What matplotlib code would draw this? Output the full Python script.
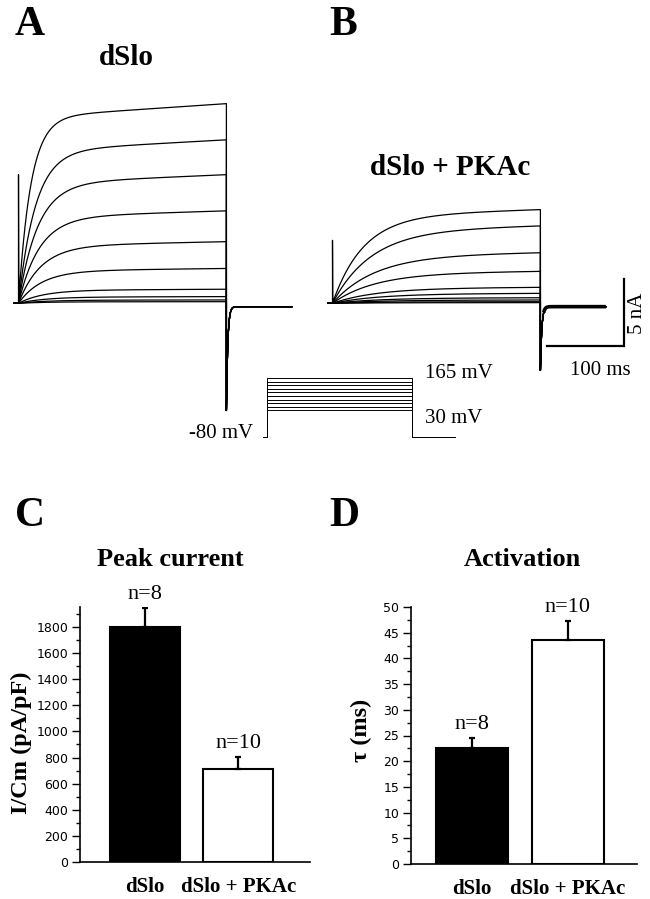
"""dSlo vs dSlo + PKAc: current traces, voltage protocol and summary bars."""

import matplotlib

matplotlib.use("Agg")
import matplotlib.pyplot as plt
import numpy as np

W, H = 650, 899
SERIF = ["Liberation Serif", "DejaVu Serif"]
SANS = ["DejaVu Sans"]

# voltage protocol
STEP_MV = [30, 45, 60, 75, 90, 105, 120, 135, 150, 165]
HOLD_MV = -80
PULSE_MS = 270
TAIL_MS = 85

# current at the end of each step (nA), lowest to highest voltage
AMP_DSLO = [0.12, 0.25, 0.5, 1.05, 2.6, 4.6, 6.9, 9.6, 12.2, 14.9]
AMP_PKA = [0.05, 0.12, 0.25, 0.42, 0.75, 1.2, 2.4, 3.8, 5.8, 7.0]
# activation time constants (ms)
TAU_DSLO = [35, 35, 34, 32, 30, 29, 27, 25, 22, 16]
TAU_PKA = [60, 60, 60, 60, 58, 56, 55, 55, 50, 40]
# capacitive spike at onset, peak tail current, steady tail level (nA)
CAP_DSLO, TAIL_DSLO = 9.6, -8.0
CAP_PKA, TAIL_PKA = 4.7, -5.0
TAIL_SS = -0.25

SCALE_NA, SCALE_MS = 5, 100

GROUPS = ["dSlo", "dSlo + PKAc"]
PEAK_MEAN = [1800, 710]
PEAK_SEM = [145, 95]
TAU_MEAN = [22.6, 43.6]
TAU_SEM = [1.9, 3.6]
N_CELLS = [8, 10]


def px_rect(box):
    left, top, right, bottom = box
    return [left / W, 1 - bottom / H, (right - left) / W, (bottom - top) / H]


def scaled_axes(fig, box, origin, sx, sy):
    """Axes where data (0, 0) sits at pixel `origin`, sx / sy pixels per unit."""
    ax = fig.add_axes(px_rect(box))
    left, top, right, bottom = box
    x0, y0 = origin
    ax.set_xlim((left - x0) / sx, (right - x0) / sx)
    ax.set_ylim((y0 - bottom) / sy, (y0 - top) / sy)
    ax.axis("off")
    return ax


def ftext(fig, x, y, s, **kw):
    fig.text(x / W, 1 - y / H, s, **kw)


def make_trace(amp, tau, cap, tail):
    t_pre = np.array([-6.0, 0.0, 0.0, 0.4])
    i_pre = np.array([0.0, 0.0, cap, 0.0])
    t_on = np.linspace(0.4, PULSE_MS, 400)
    i_on = amp * (0.93 * (1 - np.exp(-t_on / tau)) + 0.07 * t_on / PULSE_MS)
    t_off = np.linspace(0, TAIL_MS, 200)
    i_off = TAIL_SS + (tail - TAIL_SS) * np.exp(-t_off / 1.8)
    t = np.concatenate([t_pre, t_on, PULSE_MS + t_off])
    i = np.concatenate([i_pre, i_on, i_off])
    return t, i


fig = plt.figure(figsize=(W / 100, H / 100), dpi=100)

MS_PX, NA_PX = 0.77, 13.4

# --- A: dSlo traces (capacitive spike drawn once, with the last sweep)
ax_a = scaled_axes(fig, (5, 90, 300, 425), (18.5, 303.3), MS_PX, NA_PX)
for k, (amp, tau) in enumerate(zip(AMP_DSLO, TAU_DSLO)):
    cap = CAP_DSLO if k == len(AMP_DSLO) - 1 else 0.0
    t, i = make_trace(amp, tau, cap, TAIL_DSLO)
    ax_a.plot(t, i, color="black", lw=0.9)

# --- B: dSlo + PKAc traces
ax_b = scaled_axes(fig, (320, 150, 650, 400), (332.5, 303.3), MS_PX, NA_PX)
for k, (amp, tau) in enumerate(zip(AMP_PKA, TAU_PKA)):
    cap = CAP_PKA if k == len(AMP_PKA) - 1 else 0.0
    t, i = make_trace(amp, tau, cap, TAIL_PKA)
    ax_b.plot(t, i, color="black", lw=0.9)
tail = t > PULSE_MS + 4
ax_b.plot(t[tail], i[tail], color="black", lw=2.6, solid_capstyle="butt")

# scale bar
sb_x1 = PULSE_MS + 9 + SCALE_MS
sb_y0 = -3.2
ax_b.plot([sb_x1 - SCALE_MS, sb_x1, sb_x1], [sb_y0, sb_y0, sb_y0 + SCALE_NA],
          color="black", lw=1.6, solid_joinstyle="miter")
ftext(fig, 600, 375, f"{SCALE_MS} ms", family=SERIF, fontsize=15,
      ha="center", va="baseline")
ftext(fig, 637, 313, f"{SCALE_NA} nA", family=SERIF, fontsize=15,
      ha="center", va="center", rotation=90)

# --- voltage protocol
ax_v = scaled_axes(fig, (255, 365, 470, 445), (267, 417.7), 0.537, 0.241)
for v in STEP_MV:
    ax_v.plot([-7.5, 0, 0, PULSE_MS, PULSE_MS, PULSE_MS + 80],
              [HOLD_MV, HOLD_MV, v, v, HOLD_MV, HOLD_MV],
              color="black", lw=0.7)
ftext(fig, 425, 378, f"{STEP_MV[-1]} mV", family=SERIF, fontsize=15, va="baseline")
ftext(fig, 425, 423, f"{STEP_MV[0]} mV", family=SERIF, fontsize=15, va="baseline")
ftext(fig, 253, 438, f"{HOLD_MV} mV", family=SERIF, fontsize=15,
      ha="right", va="baseline")

# --- panel letters and titles
for letter, x, y in [("A", 15, 35), ("B", 329, 35), ("C", 15, 526), ("D", 329, 526)]:
    ftext(fig, x, y, letter, family=SERIF, fontsize=30, fontweight="bold",
          va="baseline")
ftext(fig, 126, 65, GROUPS[0], family=SERIF, fontsize=21, fontweight="bold",
      ha="center", va="baseline")
ftext(fig, 450, 175, GROUPS[1], family=SERIF, fontsize=21, fontweight="bold",
      ha="center", va="baseline")
ftext(fig, 170, 566, "Peak current", family=SERIF, fontsize=19,
      fontweight="bold", ha="center", va="baseline")
ftext(fig, 522, 566, "Activation", family=SERIF, fontsize=19,
      fontweight="bold", ha="center", va="baseline")


def bar_panel(box, xlim, ylim, mean, sem, major, minor, ylabel, label_xy):
    ax = fig.add_axes(px_rect(box))
    x = np.arange(len(GROUPS))
    ax.bar(x, mean, width=0.75, color=["black", "white"], edgecolor="black",
           linewidth=1.5, zorder=2)
    ax.errorbar(x, mean, yerr=[np.zeros(len(sem)), sem], fmt="none",
                ecolor="black", elinewidth=1.6, capsize=2.2, capthick=1.6,
                zorder=3)
    for xi, m, s, n in zip(x, mean, sem, N_CELLS):
        ax.annotate(f"n={n}", (xi, m + s), xytext=(0, 6.5),
                    textcoords="offset points", ha="center", va="baseline",
                    family=SERIF, fontsize=16)
    ax.set_xlim(*xlim)
    ax.set_ylim(*ylim)
    ax.set_yticks(np.arange(0, ylim[1] + 1e-9, major))
    ax.set_yticks(np.arange(0, ylim[1] + 1e-9, minor), minor=True)
    ax.set_xticks(x)
    ax.set_xticklabels(GROUPS, family=SERIF, fontsize=15, fontweight="bold")
    ax.tick_params(axis="x", length=0, pad=11)
    ax.tick_params(axis="y", which="major", length=5.5, width=1, pad=3,
                   labelsize=9)
    ax.tick_params(axis="y", which="minor", length=3, width=1)
    for lab in ax.get_yticklabels():
        lab.set_family(SANS)
    for side in ("top", "right"):
        ax.spines[side].set_visible(False)
    for side in ("left", "bottom"):
        ax.spines[side].set_linewidth(1.2)
    ax.set_ylabel(ylabel, family=SERIF, fontsize=17.5, fontweight="bold")
    ax.yaxis.set_label_coords(*label_xy)
    ax.patch.set_visible(False)
    return ax


bar_panel((80, 607.4, 310, 862), (-0.70, 1.77), (0, 1950), PEAK_MEAN,
          PEAK_SEM, 200, 100, "I/Cm (pA/pF)", (-0.209, 0.47))
bar_panel((411, 607, 637, 864), (-0.635, 1.72), (0, 50), TAU_MEAN,
          TAU_SEM, 5, 2.5, "τ (ms)", (-0.173, 0.52))

fig.savefig("out.png", dpi=100)
